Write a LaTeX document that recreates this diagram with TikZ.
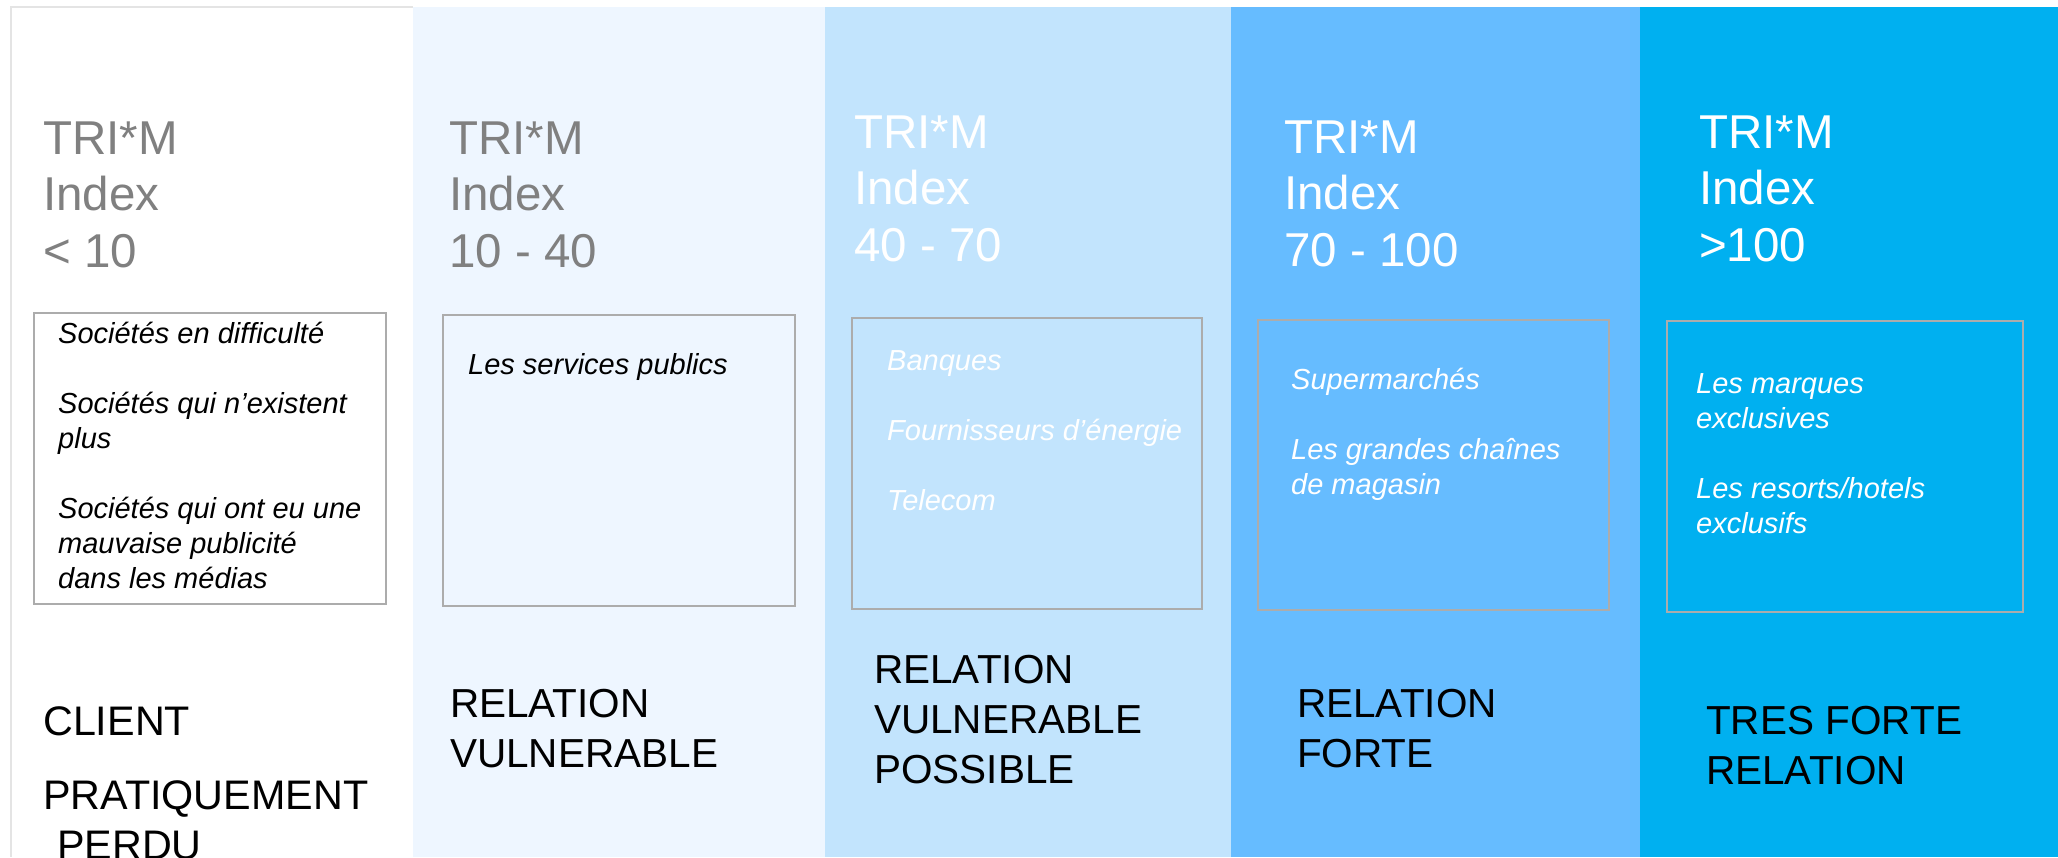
\documentclass[tikz,border=0pt]{standalone}
\usepackage{fontspec}
\setmainfont{Liberation Sans}
\definecolor{colB}{RGB}{238,246,255}
\definecolor{colC}{RGB}{194,228,253}
\definecolor{colD}{RGB}{102,188,255}
\definecolor{colE}{RGB}{0,176,240}
\definecolor{edgegrey}{RGB}{228,228,228}
\definecolor{boxgrey}{RGB}{172,172,172}
\definecolor{headgrey}{RGB}{128,128,128}
\tikzset{
  header/.style={anchor=base west, inner sep=0pt, align=left, font=\fontsize{47.5}{56.5}\selectfont},
  itemtext/.style={anchor=base west, inner sep=0pt, align=left, font=\fontsize{29}{35}\selectfont\itshape},
  reltext/.style={anchor=base west, inner sep=0pt, align=left, text=black, font=\fontsize{40.5}{50}\selectfont},
  listbox/.style={draw=boxgrey, line width=2pt},
}
\begin{document}
\begin{tikzpicture}[x=1pt,y=-1pt]
\useasboundingbox (0,0) rectangle (2058,857);
\fill[white] (0,0) rectangle (2058,857);
% columns
\fill[colB] (413,7) rectangle (825,857);
\fill[colC] (825,7) rectangle (1231,857);
\fill[colD] (1231,7) rectangle (1640,857);
\fill[colE] (1640,7) rectangle (2058,857);
\draw[edgegrey, line width=2pt] (11,857) -- (11,7) -- (413,7);
% inner boxes
\draw[listbox] (34,313) rectangle (386,604);
\draw[listbox] (443,315) rectangle (795,606);
\draw[listbox] (852,318) rectangle (1202,609);
\draw[listbox] (1258,320) rectangle (1609,610);
\draw[listbox] (1667,321) rectangle (2023,612);
% headers (anchored at the baseline of the last line)
\node[header, text=headgrey] (h1) at (43,267) {TRI*M\\Index\\< 10};
\node[header, text=headgrey] (h2) at (449,267) {TRI*M\\Index\\10 - 40};
\node[header, text=white] (h3) at (854,261) {TRI*M\\Index\\40 - 70};
\node[header, text=white] (h4) at (1284,266) {TRI*M\\Index\\70 - 100};
\node[header, text=white] (h5) at (1699,261) {TRI*M\\Index\\>100};
% list texts
\node[itemtext, text=black] (t1) at (58,588) {Sociétés en difficulté\\[35pt]Sociétés qui n’existent\\plus\\[35pt]Sociétés qui ont eu une\\mauvaise publicité\\dans les médias};
\node[itemtext, text=black] (t2) at (468,374) {Les services publics};
\node[itemtext, text=white] (t3) at (887,510) {Banques\\[35pt]Fournisseurs d’énergie\\[35pt]Telecom};
\node[itemtext, text=white] (t4) at (1291,494) {Supermarchés\\[35pt]Les grandes chaînes\\de magasin};
\node[itemtext, text=white] (t5) at (1696,533) {Les marques\\exclusives\\[35pt]Les resorts/hotels\\exclusifs};
% relation labels
\node[reltext, font=\fontsize{41.3}{50}\selectfont] (r1) at (43,859) {CLIENT\\[24pt]PRATIQUEMENT\\\hspace*{14pt}PERDU};
\node[reltext] (r2) at (450,767) {RELATION\\VULNERABLE};
\node[reltext] (r3) at (874,783) {RELATION\\VULNERABLE\\POSSIBLE};
\node[reltext] (r4) at (1297,767) {RELATION\\FORTE};
\node[reltext] (r5) at (1706,784) {TRES FORTE\\RELATION};
\end{tikzpicture}
\end{document}
